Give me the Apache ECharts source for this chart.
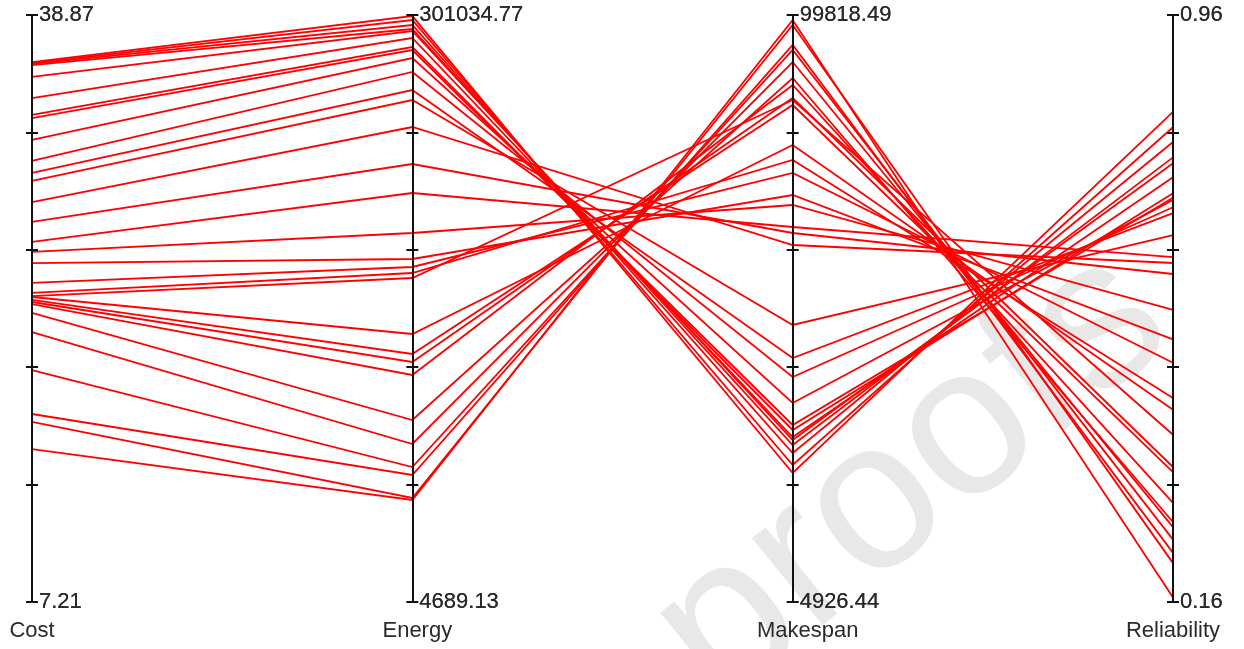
<!DOCTYPE html>
<html>
<head>
<meta charset="utf-8">
<script src="https://cdn.jsdelivr.net/npm/echarts@6/dist/echarts.min.js"></script>
<style>
html,body{margin:0;padding:0;background:#fff;}
#chart{width:1244px;height:649px;}
</style>
</head>
<body>
<div id="chart"></div>
<script>
const categories = ['Cost', 'Energy', 'Makespan', 'Reliability'];
const axisMin = [7.21, 4689.13, 4926.44, 0.16];
const axisMax = [38.87, 301034.77, 99818.49, 0.96];
const minLabels = ['7.21', '4689.13', '4926.44', '0.16'];
const maxLabels = ['38.87', '301034.77', '99818.49', '0.96'];

const cost = [36.33, 36.28, 36.23, 36.17, 35.53, 34.39, 33.48, 33.31, 32.13, 31.00,
  30.35, 29.92, 28.78, 27.71, 26.63, 26.09, 25.49, 24.42, 23.88, 23.71,
  23.66, 23.50, 23.39, 23.28, 22.80, 21.77, 19.72, 17.35, 16.92, 15.46];
const energy = [300500, 298512, 295987, 293968, 292958, 289424, 284881, 283366, 279327, 272260,
  263172, 258124, 244493, 225813, 211173, 190979, 177853, 173814, 170785, 168260,
  139989, 129892, 125853, 119290, 96572, 84455, 72844, 68805, 57193, 56184];
const makespan = [25780, 27073, 29013, 30307, 31115, 31600, 32732, 33540, 37096, 41300,
  44371, 49706, 62639, 64579, 65549, 69105, 70722, 74278, 76380, 86079,
  78805, 85271, 86400, 88504, 89636, 92222, 94162, 94971, 98204, 99012];
const reliability = [0.828, 0.807, 0.787, 0.766, 0.758, 0.739, 0.717, 0.711, 0.708, 0.698,
  0.690, 0.660, 0.622, 0.607, 0.630, 0.558, 0.518, 0.486, 0.438, 0.388,
  0.422, 0.337, 0.344, 0.295, 0.269, 0.262, 0.245, 0.227, 0.213, 0.166];

const rows = cost.map((c, i) => [c, energy[i], makespan[i], reliability[i]]);

const FONT = "'Liberation Sans', Arial, sans-serif";
const nameShift = [0, 5, 15, 0];
const layoutBox = { left: 32, right: 71, top: 15, bottom: 47, layout: 'horizontal' };

function makeAxes(pIndex, tickLen) {
  return categories.map((name, i) => {
    const iv = (axisMax[i] - axisMin[i]) / 5;
    return {
      dim: i,
      parallelIndex: pIndex,
      name: pIndex === 0 ? name : '',
      nameLocation: 'start',
      nameGap: 18,
      nameTextStyle: {
        color: '#2a2a2a', fontSize: 22, fontFamily: FONT,
        verticalAlign: 'top', align: 'center',
        padding: [0, 0, 0, nameShift[i] * 2]
      },
      min: axisMin[i],
      max: axisMax[i],
      interval: iv,
      axisLine: { show: true, lineStyle: { color: '#111', width: 2 } },
      axisTick: { show: true, length: tickLen, lineStyle: { color: '#111', width: 2 } },
      axisLabel: {
        show: pIndex === 0,
        margin: 7,
        color: '#2a2a2a',
        fontSize: 22,
        fontFamily: FONT,
        showMinLabel: true,
        showMaxLabel: true,
        formatter: function (v) {
          if (Math.abs(v - axisMin[i]) < iv * 0.01) return minLabels[i];
          if (Math.abs(v - axisMax[i]) < iv * 0.01) return maxLabels[i];
          return '';
        }
      },
      splitLine: { show: false }
    };
  });
}

const chart = echarts.init(document.getElementById('chart'), null, { renderer: 'canvas' });
chart.setOption({
  animation: false,
  backgroundColor: '#fff',
  parallel: [
    Object.assign({}, layoutBox, { z: 3 }),
    Object.assign({}, layoutBox, { z: 3 })
  ],
  parallelAxis: makeAxes(0, 6).concat(makeAxes(1, -6)),
  graphic: [{
    type: 'text',
    z: -10,
    silent: true,
    x: 912,
    y: 478,
    rotation: 0.68,
    style: {
      text: 'proofs',
      fontSize: 212,
      fontFamily: FONT,
      fill: 'rgba(200,200,200,0.42)',
      align: 'center',
      verticalAlign: 'middle'
    }
  }],
  series: [{
    type: 'parallel',
    parallelIndex: 0,
    z: 2,
    silent: true,
    smooth: false,
    lineStyle: { color: '#ff0000', width: 1.8, opacity: 1 },
    emphasis: { disabled: true },
    inactiveOpacity: 1,
    activeOpacity: 1,
    data: rows
  }, {
    type: 'parallel',
    parallelIndex: 1,
    silent: true,
    lineStyle: { opacity: 0 },
    data: []
  }]
});
</script>
</body>
</html>
